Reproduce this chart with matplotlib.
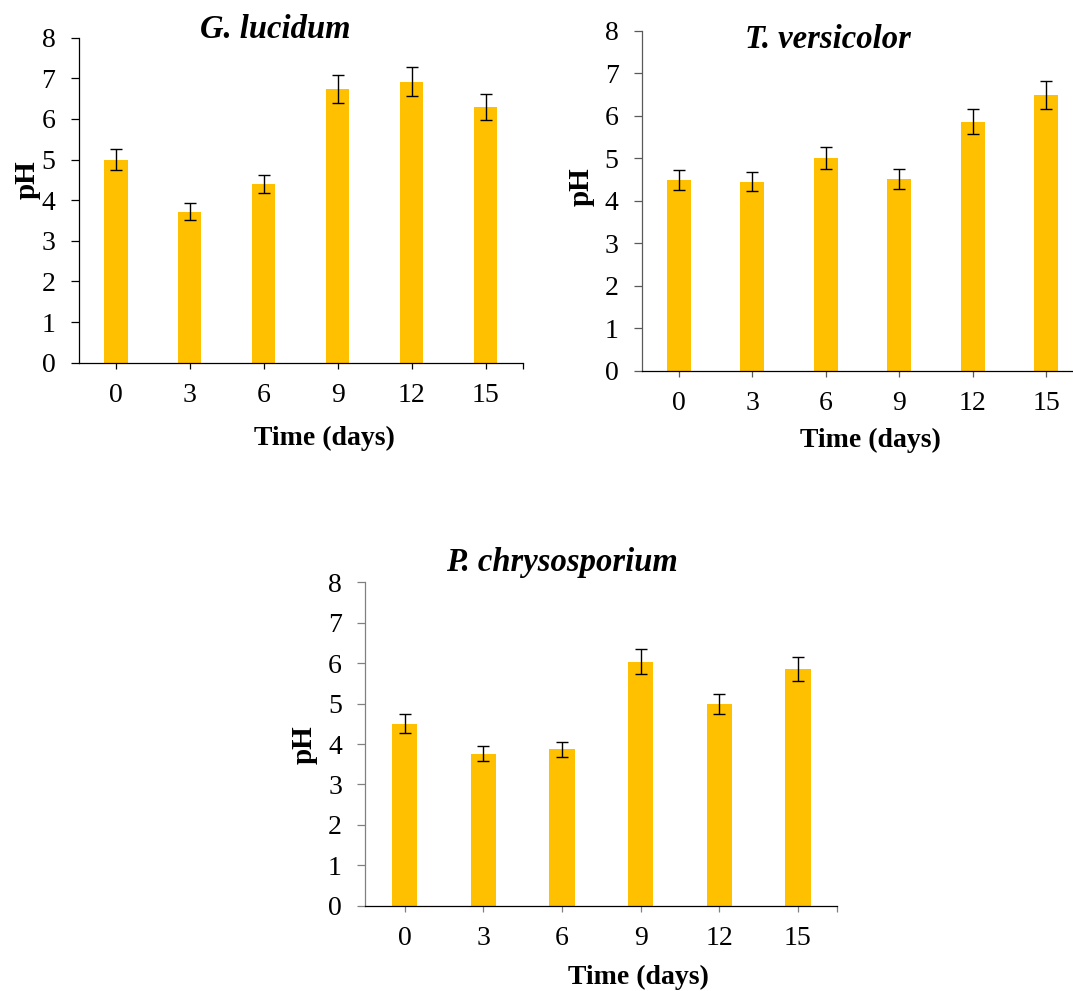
import numpy as np
import matplotlib
matplotlib.use("Agg")
import matplotlib.pyplot as plt

plt.rcParams["font.family"] = ["Liberation Serif", "DejaVu Serif"]

days = ["0", "3", "6", "9", "12", "15"]

# pH means and error (SD)
gl_ph = [5.00, 3.72, 4.40, 6.74, 6.92, 6.30]
gl_err = [0.25, 0.20, 0.22, 0.34, 0.35, 0.32]

tv_ph = [4.49, 4.45, 5.01, 4.51, 5.86, 6.49]
tv_err = [0.23, 0.22, 0.26, 0.23, 0.30, 0.33]

pc_ph = [4.50, 3.76, 3.87, 6.04, 4.99, 5.86]
pc_err = [0.23, 0.19, 0.19, 0.31, 0.25, 0.30]

BAR_COLOR = "#FFC000"
W, H = 1073, 991


def px(x, y):
    # pixel position (from top-left) to figure fraction
    return x / W, 1 - y / H


def panel(fig, rect, values, errors, title, title_xy, xlabel_xy, ylabel_xy, spine_color):
    ax = fig.add_axes(rect)
    x = np.arange(len(days))
    ax.bar(x, values, width=0.32, color=BAR_COLOR, zorder=2)
    ax.errorbar(x, values, yerr=errors, fmt="none", ecolor="black",
                elinewidth=1.0, capsize=4.5, capthick=1.0, zorder=3)

    ax.set_xlim(-0.5, 5.5)
    ax.set_ylim(0, 8)
    ax.set_xticks(x)
    ax.set_xticklabels(days)
    ax.set_xticks([5.5], minor=True)
    ax.set_yticks(range(0, 9))

    for side in ["top", "right"]:
        ax.spines[side].set_visible(False)
    ax.spines["left"].set_color(spine_color)
    ax.spines["bottom"].set_color("black")
    for side in ["left", "bottom"]:
        ax.spines[side].set_linewidth(0.9)

    ax.tick_params(axis="y", direction="out", length=5.8, width=0.9,
                   color=spine_color, labelsize=20, pad=11)
    ax.tick_params(axis="x", which="both", direction="out", length=4.6, width=0.9,
                   color=spine_color, labelsize=20, pad=10)

    tx, ty = px(*title_xy)
    fig.text(tx, ty, title, ha="center", va="center", fontsize=23.5,
             fontweight="bold", fontstyle="italic")
    lx, ly = px(*xlabel_xy)
    fig.text(lx, ly, "Time (days)", ha="center", va="center", fontsize=20,
             fontweight="bold")
    yx, yy = px(*ylabel_xy)
    fig.text(yx, yy, "pH", ha="center", va="center", fontsize=21,
             fontweight="bold", rotation=90)
    return ax


fig = plt.figure(figsize=(W / 100, H / 100), dpi=100)

panel(fig, [78.7 / W, 1 - 362.7 / H, 443.8 / W, 325.0 / H], gl_ph, gl_err,
      "G. lucidum", (275, 30), (324, 438), (27, 180), "black")
panel(fig, [642.0 / W, 1 - 370.7 / H, 441.0 / W, 340.0 / H], tv_ph, tv_err,
      "T. versicolor", (828, 40), (870, 440), (581, 187), "#595959")
panel(fig, [365.3 / W, 1 - 905.7 / H, 472.0 / W, 323.4 / H], pc_ph, pc_err,
      "P. chrysosporium", (562, 562), (638, 977), (304, 745), "#808080")

fig.savefig("out.png", dpi=100)
